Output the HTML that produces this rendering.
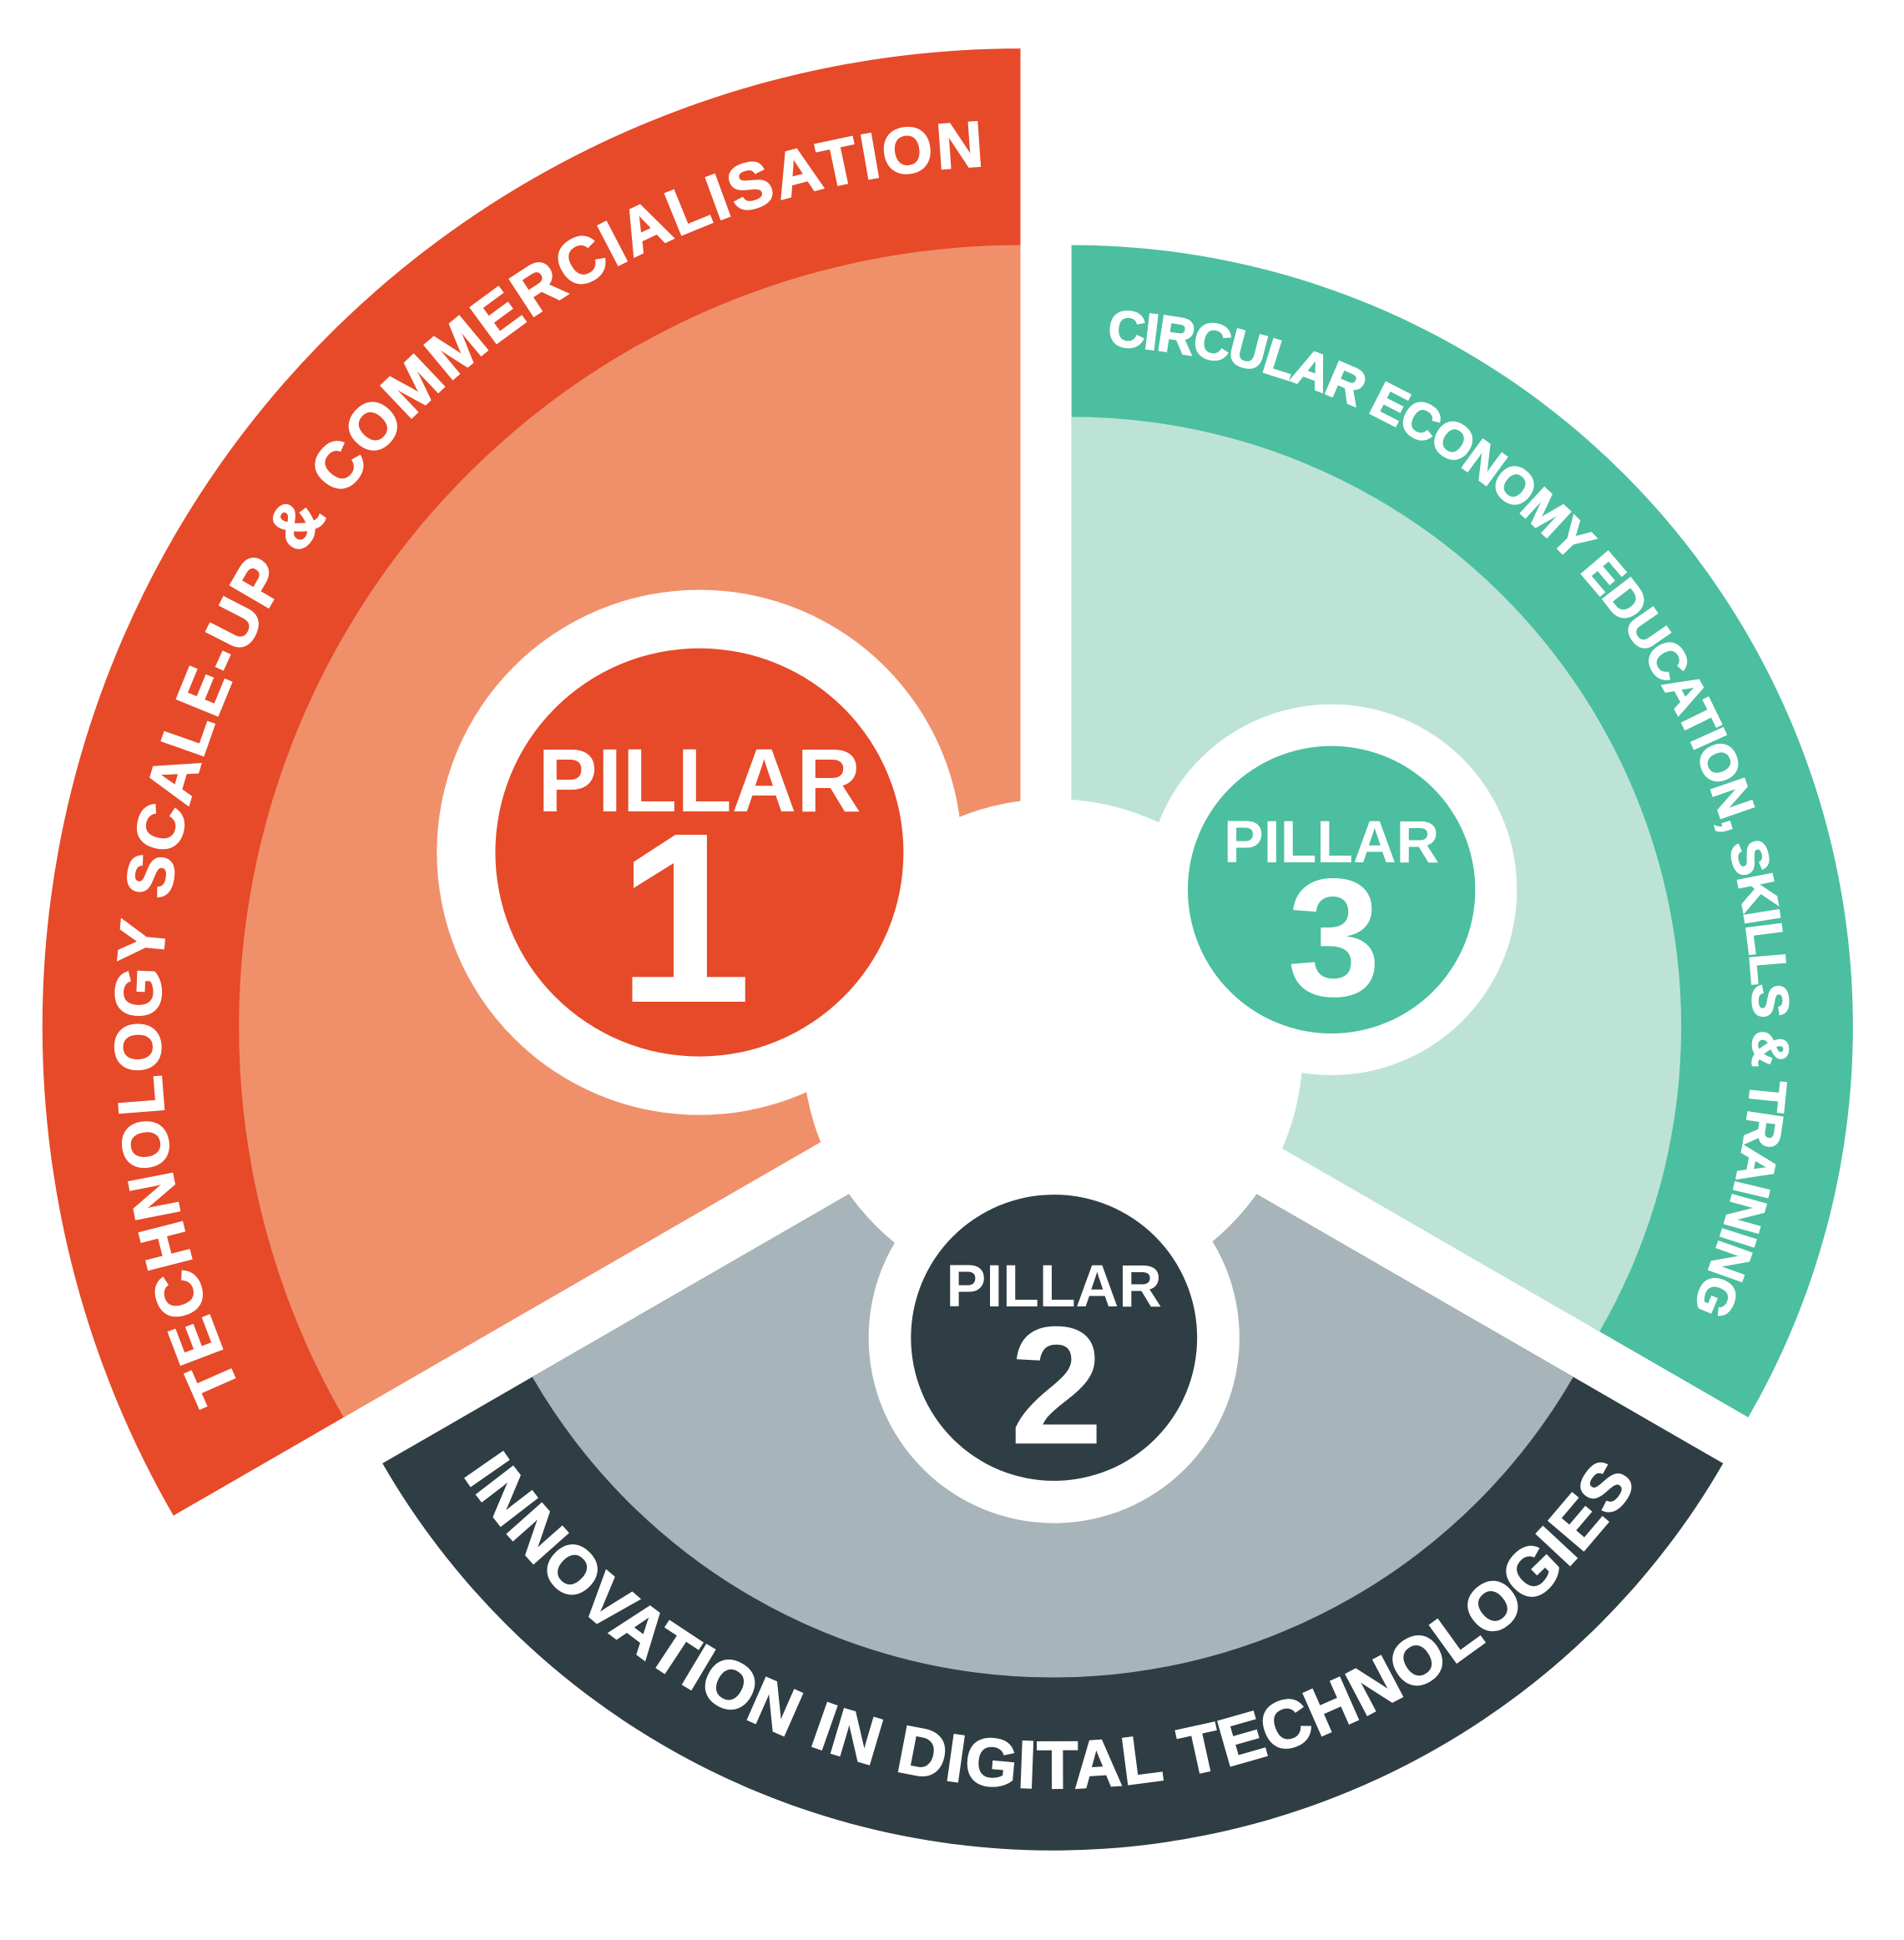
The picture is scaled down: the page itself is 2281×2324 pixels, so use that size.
<!DOCTYPE html>
<html><head><meta charset="utf-8"><style>html,body{margin:0;padding:0;background:#fff}svg{display:block}</style></head>
<body>
<svg width="2281" height="2324" viewBox="0 0 1530 1559" xmlns="http://www.w3.org/2000/svg">
<defs>
<path id="p1" d="M193.7,1118.2 A692,692 0 0 1 795.8,133.4" fill="none"/>
<path id="p3" d="M889.8,277.8 A548,548 0 0 1 1357.6,1056.6" fill="none"/>
<path id="p2" d="M371.8,1184.9 A572,572 0 0 0 1320.2,1184.9" fill="none"/>
</defs>
<rect width="1530" height="1559" fill="#fff"/>
<path d="M820,825 L139.3,1218 A786,786 0 0 1 820,39 Z" fill="#E64A29"/>
<path d="M820,825 L276.1,1139 A628,628 0 0 1 820,197 Z" fill="#F0906B"/>
<path d="M861,825 L861,197 A628,628 0 0 1 1404.9,1139 Z" fill="#4BBFA0"/>
<path d="M861,825 L861,335 A490,490 0 0 1 1285.4,1070 Z" fill="#BDE3D6"/>
<path d="M846,865 L1384.7,1176 A622,622 0 0 1 307.3,1176 Z" fill="#2F3E44"/>
<path d="M846,865 L1264.3,1106.5 A483,483 0 0 1 427.7,1106.5 Z" fill="#A7B5BA"/>
<circle cx="846" cy="843" r="201" fill="#fff"/>
<circle cx="562" cy="685" r="211" fill="#fff"/>
<circle cx="562" cy="685" r="164" fill="#E64A29"/>
<circle cx="1070" cy="715" r="149" fill="#fff"/>
<circle cx="1070" cy="715" r="115.5" fill="#4BBFA0"/>
<circle cx="847" cy="1075" r="149" fill="#fff"/>
<circle cx="847" cy="1075" r="115" fill="#2F3E44"/>
<g font-family="'Liberation Sans', sans-serif" font-weight="bold" fill="#fff" text-anchor="middle">
<text x="562" y="652" font-size="72">PILLAR</text>
<text x="550" y="805" font-size="195">1</text>
<text x="1070" y="693" font-size="48">PILLAR</text>
<text x="1072" y="800" font-size="135">3</text>
<text x="847" y="1050" font-size="48">PILLAR</text>
<text x="849" y="1160" font-size="135">2</text>
</g>
<g font-family="'Liberation Sans', sans-serif" font-weight="bold" fill="#fff" stroke="#fff" stroke-width="1.2">
<text font-size="52"><textPath href="#p1" textLength="1360" lengthAdjust="spacing">TECHNOLOGY SCALE-UP &amp; COMMERCIALISATION</textPath></text>
<text font-size="41"><textPath href="#p3" textLength="1065" lengthAdjust="spacing">CIRCULAR ECONOMY EDUCATION, SKILLS &amp; TRAINING</textPath></text>
<text font-size="54"><textPath href="#p2" textLength="1110" lengthAdjust="spacing">INNOVATION IN DIGITAL TECHNOLOGIES</textPath></text>
</g>
</svg>
</body></html>
